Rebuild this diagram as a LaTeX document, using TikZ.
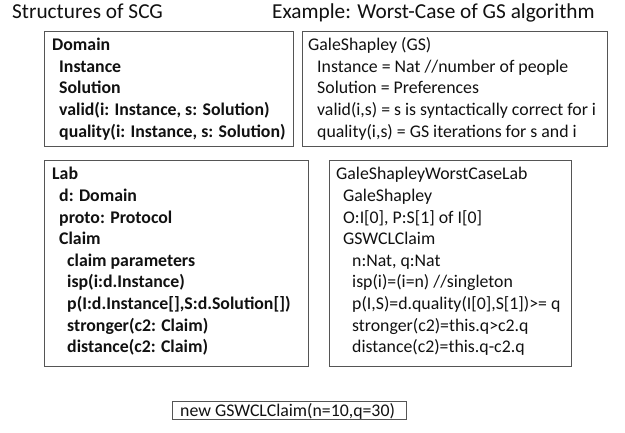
\documentclass[tikz,border=0pt]{standalone}
\usepackage{fontspec}
\setmainfont{Carlito}
\definecolor{boxline}{HTML}{555555}
\definecolor{txt}{HTML}{111111}
\begin{document}
\begin{tikzpicture}[x=1pt,y=-1pt,
  box/.style={draw=boxline,line width=0.9pt,rectangle,inner sep=0pt,anchor=north west},
  ln/.style={anchor=base west,inner sep=0pt,text=txt,font=\fontsize{17.8}{20}\selectfont},
  bln/.style={ln,font=\fontsize{17.8}{20}\selectfont\bfseries},
  ttl/.style={anchor=base west,inner sep=0pt,text=txt,font=\fontsize{21.3}{25}\selectfont}]
\useasboundingbox[fill=white] (0,0) rectangle (625,433);
% titles
\node[ttl] (t1) at (12,18.5) {Structures of SCG};
\node[ttl] (t2) at (272,18.5) {Example: Worst-Case of GS algorithm};
% boxes
\node[box,minimum width=249pt,minimum height=115pt] (b1) at (44,31) {};
\node[box,minimum width=305pt,minimum height=115pt] (b2) at (302,31) {};
\node[box,minimum width=264pt,minimum height=206pt] (b3) at (44,160) {};
\node[box,minimum width=242pt,minimum height=206pt] (b4) at (329,160) {};
\node[box,minimum width=234pt,minimum height=18pt] (b5) at (172,401) {};
% box 1
\node[bln] (d1) at (52,50.7) {Domain};
\node[bln] (d2) at (59,72.3) {Instance};
\node[bln] (d3) at (59,94) {Solution};
\node[bln] (d4) at (59,115.7) {valid(i: Instance, s: Solution)};
\node[bln] (d5) at (59,137.3) {quality(i: Instance, s: Solution)};
% box 2
\node[ln] (g1) at (308,50.7) {GaleShapley (GS)};
\node[ln] (g2) at (317,72.3) {Instance = Nat //number of people};
\node[ln] (g3) at (317,94) {Solution = Preferences};
\node[ln] (g4) at (317,115.7) {valid(i,s) = s is syntactically correct for i};
\node[ln] (g5) at (317,137.3) {quality(i,s) = GS iterations for s and i};
% box 3
\node[bln] (l1) at (52,180) {Lab};
\node[bln] (l2) at (59,201.6) {d: Domain};
\node[bln] (l3) at (59,223.2) {proto: Protocol};
\node[bln] (l4) at (59,244.8) {Claim};
\node[bln] (l5) at (67,266.4) {claim parameters};
\node[bln] (l6) at (67,288) {isp(i:d.Instance)};
\node[bln] (l7) at (67,309.6) {p(I:d.Instance[],S:d.Solution[])};
\node[bln] (l8) at (67,331.2) {stronger(c2: Claim)};
\node[bln] (l9) at (67,352.8) {distance(c2: Claim)};
% box 4
\node[ln] (w1) at (336,180) {GaleShapleyWorstCaseLab};
\node[ln] (w2) at (343,201.6) {GaleShapley};
\node[ln] (w3) at (343,223.2) {O:I[0], P:S[1] of I[0]};
\node[ln] (w4) at (343,244.8) {GSWCLClaim};
\node[ln] (w5) at (352,266.4) {n:Nat, q:Nat};
\node[ln] (w6) at (352,288) {isp(i)=(i=n) //singleton};
\node[ln] (w7) at (352,309.6) {p(I,S)=d.quality(I[0],S[1])>= q};
\node[ln] (w8) at (352,331.2) {stronger(c2)=this.q>c2.q};
\node[ln] (w9) at (352,352.8) {distance(c2)=this.q-c2.q};
% box 5
\node[ln] (n1) at (180,416.5) {new GSWCLClaim(n=10,q=30)};
\end{tikzpicture}
\end{document}
